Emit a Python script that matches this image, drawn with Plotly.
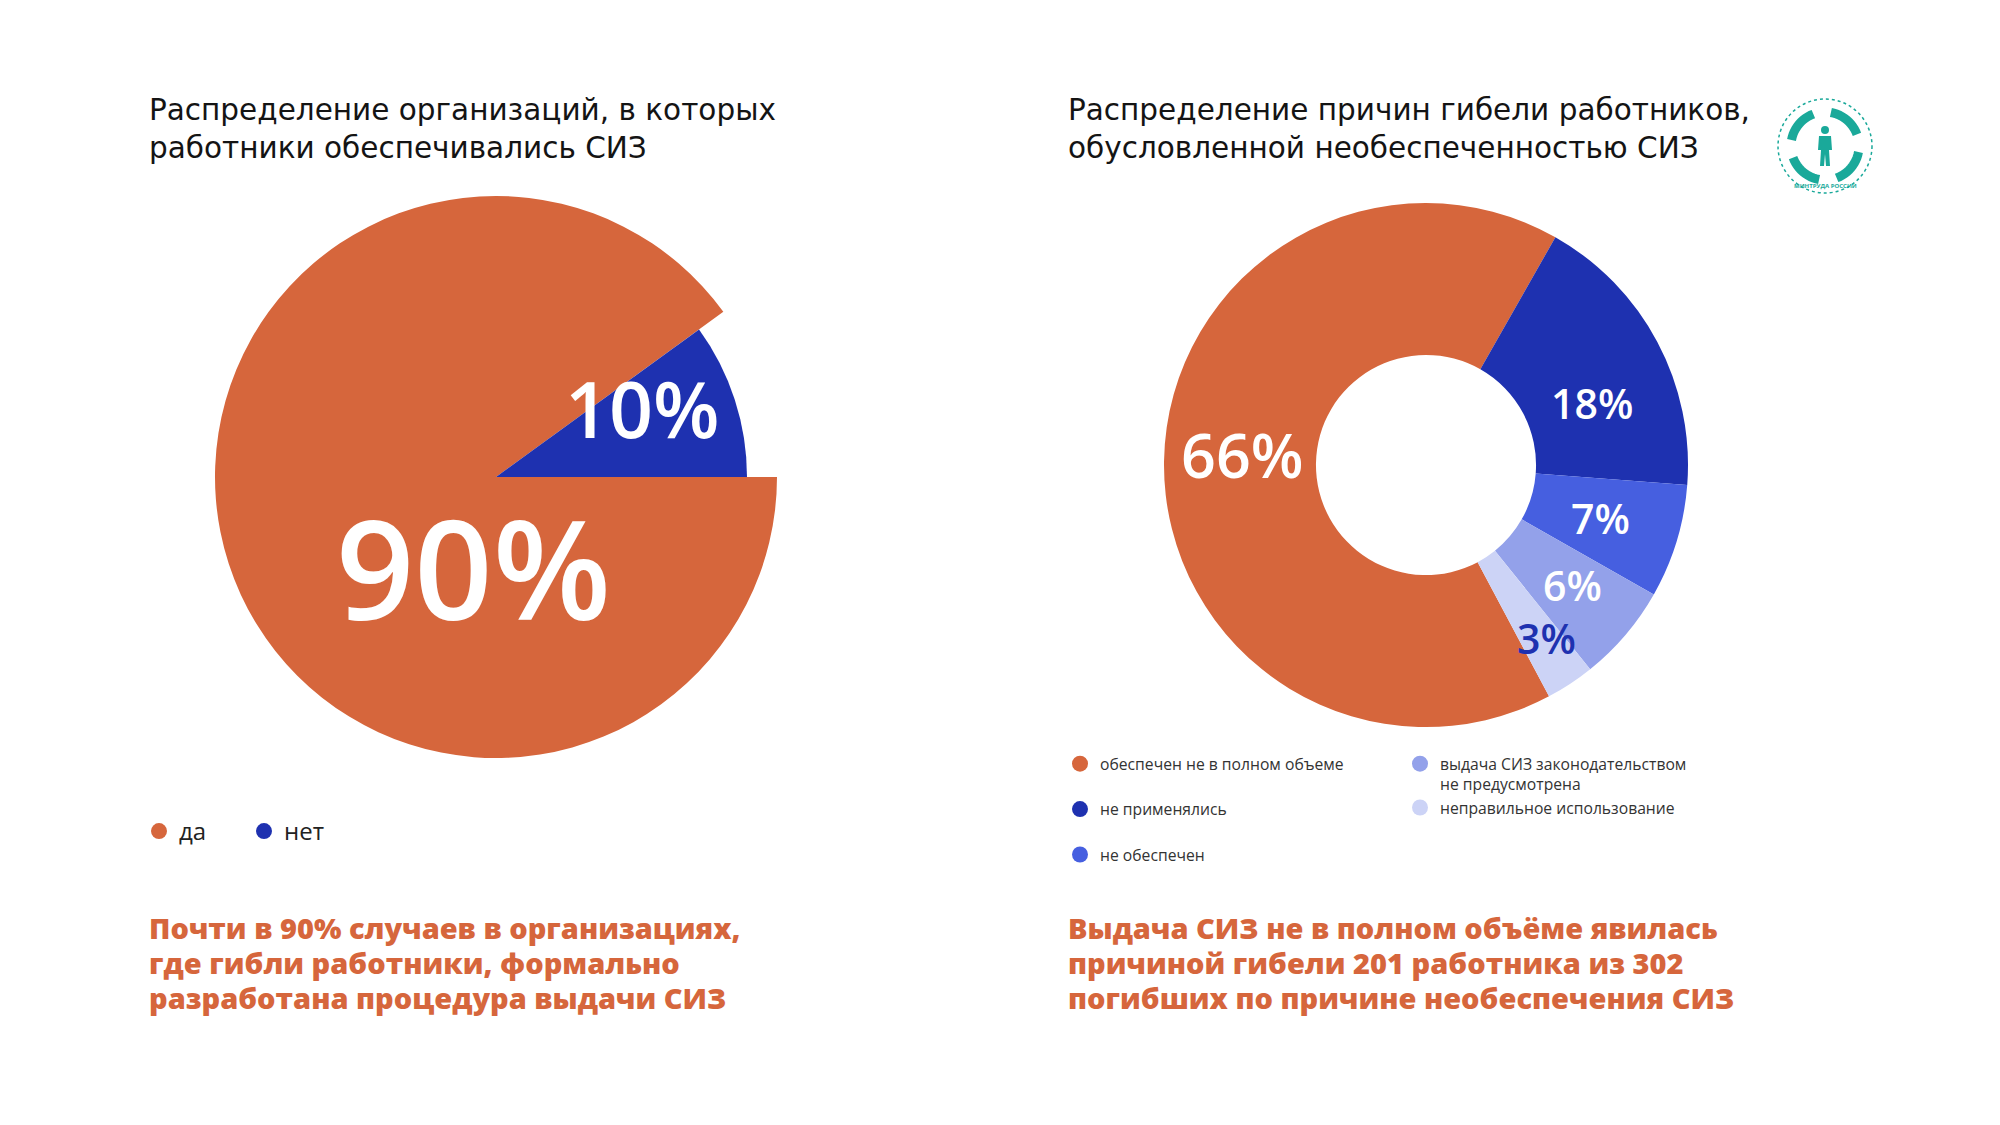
import math
import plotly.graph_objects as go

W, H = 2000, 1125

# Данные: организации, где работники обеспечивались СИЗ
org_labels = ["да", "нет"]
org_values = [90, 10]
org_colors = ["#D6663C", "#1E31B0"]

# Данные: причины гибели работников, обусловленные необеспеченностью СИЗ
pr_labels = ["обеспечен не в полном объеме", "не применялись", "не обеспечен",
             "выдача СИЗ законодательством<br>не предусмотрена", "неправильное использование"]
pr_values = [66, 18, 7, 6, 3]
pr_colors = ["#D6663C", "#1E31B0", "#465FE0", "#93A1EA", "#CCD3F6"]

title_left = ["Распределение организаций, в которых", "работники обеспечивались СИЗ"]
title_right = ["Распределение причин гибели работников,", "обусловленной необеспеченностью СИЗ"]
note_left = ["Почти в 90% случаев в организациях,", "где гибли работники, формально",
             "разработана процедура выдачи СИЗ"]
note_right = ["Выдача СИЗ не в полном объёме явилась", "причиной гибели 201 работника из 302",
              "погибших по причине необеспечения СИЗ"]

FONT = "Open Sans"
TITLE_FONT = "DejaVu Sans"
ORANGE = "#D6663C"
TEAL = "#1AA99A"
NONE = "rgba(0,0,0,0)"


def px(x):
    return x / W


def py(y):
    return 1 - y / H


def domain(cx, cy, r):
    return dict(x=[px(cx - r), px(cx + r)], y=[py(cy + r), py(cy - r)])


fig = go.Figure()

# левый круг: оранжевый сектор крупнее синего, поэтому два слоя
fig.add_trace(go.Pie(labels=org_labels, values=org_values, sort=False,
                     marker=dict(colors=[org_colors[0], NONE]),
                     rotation=90, direction="clockwise", textinfo="none",
                     domain=domain(496, 477, 281), showlegend=False))
fig.add_trace(go.Pie(labels=org_labels, values=org_values, sort=False,
                     marker=dict(colors=[NONE, org_colors[1]]),
                     rotation=90, direction="clockwise", textinfo="none",
                     domain=domain(496, 477, 251), showlegend=False))

# правый круг (кольцо)
fig.add_trace(go.Pie(labels=pr_labels, values=pr_values, sort=False,
                     marker=dict(colors=pr_colors), hole=0.42,
                     rotation=152, direction="clockwise", textinfo="none",
                     domain=domain(1426, 465, 262), showlegend=False))

# легенды из точек
for lab, col in zip(org_labels, org_colors):
    fig.add_trace(go.Scatter(x=[None], y=[None], mode="markers", name=lab,
                             marker=dict(size=16, color=col), legend="legend2"))
for i, (lab, col) in enumerate(zip(pr_labels, pr_colors)):
    fig.add_trace(go.Scatter(x=[None], y=[None], mode="markers", name=lab,
                             legendgroup=f"g{i}",
                             marker=dict(size=16, color=col),
                             legend="legend" if i < 3 else "legend3"))

ann = []


def add_text(x, y, text, size, color, family, weight=400):
    ann.append(dict(x=px(x), y=py(y), xref="paper", yref="paper", text=text,
                    showarrow=False, xanchor="left", yanchor="middle", align="left",
                    font=dict(family=family, size=size, color=color, weight=weight)))


def add_label(x, y, text, size, color="white"):
    ann.append(dict(x=px(x), y=py(y), xref="paper", yref="paper", text=text,
                    showarrow=False, xanchor="center", yanchor="middle",
                    font=dict(family=FONT, size=size, color=color, weight=600)))


add_text(147, 129, "<br>".join(title_left), 29.5, "#141414", TITLE_FONT)
add_text(1066, 129, "<br>".join(title_right), 29.5, "#141414", TITLE_FONT)
for k, line in enumerate(note_left):
    add_text(147, 927 + 35 * k, line, 29, ORANGE, FONT, 800)
for k, line in enumerate(note_right):
    add_text(1066, 927 + 35 * k, line, 29, ORANGE, FONT, 800)

# подписи долей
add_label(473, 567, f"{org_values[0]}%", 137)
add_label(642, 408, f"{org_values[1]}%", 77)
add_label(1242, 455, f"{pr_values[0]}%", 61)
add_label(1592, 403, f"{pr_values[1]}%", 41)
add_label(1600, 518, f"{pr_values[2]}%", 41)
add_label(1572, 585, f"{pr_values[3]}%", 41)
add_label(1546, 638, f"{pr_values[4]}%", 41, pr_colors[1])

# логотип (упрощённо)
shapes = []
lx, ly = 1825, 146
shapes.append(dict(type="circle", xref="paper", yref="paper",
                   x0=px(lx - 47), x1=px(lx + 47), y0=py(ly + 47), y1=py(ly - 47),
                   line=dict(color=TEAL, width=1.5, dash="dot")))
for a0 in (20, 110, 200, 290):
    pts = []
    for t in range(0, 61, 5):
        ang = math.radians(a0 + t)
        pts.append((lx + 34 * math.cos(ang), ly - 34 * math.sin(ang)))
    path = "M " + " L ".join(f"{px(x):.5f},{py(y):.5f}" for x, y in pts)
    shapes.append(dict(type="path", xref="paper", yref="paper", path=path,
                       line=dict(color=TEAL, width=9)))
shapes.append(dict(type="circle", xref="paper", yref="paper",
                   x0=px(lx - 4), x1=px(lx + 4), y0=py(ly - 12), y1=py(ly - 20),
                   fillcolor=TEAL, line=dict(width=0)))
body = [(lx - 6, ly - 10), (lx + 6, ly - 10), (lx + 7, ly + 4), (lx + 4, ly + 4),
        (lx + 5, ly + 20), (lx + 1, ly + 20), (lx, ly + 8), (lx - 1, ly + 20),
        (lx - 5, ly + 20), (lx - 4, ly + 4), (lx - 7, ly + 4)]
shapes.append(dict(type="path", xref="paper", yref="paper",
                   path="M " + " L ".join(f"{px(x):.5f},{py(y):.5f}" for x, y in body) + " Z",
                   fillcolor=TEAL, line=dict(width=0)))
ann.append(dict(x=px(lx), y=py(ly + 40), xref="paper", yref="paper",
                text="МИНТРУДА РОССИИ", showarrow=False, xanchor="center", yanchor="middle",
                font=dict(family=FONT, size=6, color=TEAL, weight=700)))

legend_common = dict(bgcolor=NONE, borderwidth=0, xanchor="left", yanchor="top",
                     itemclick=False, itemdoubleclick=False)

fig.update_layout(
    width=W, height=H,
    margin=dict(l=0, r=0, t=0, b=0),
    paper_bgcolor="white", plot_bgcolor="white",
    font=dict(family=FONT, color="#333333"),
    xaxis=dict(visible=False), yaxis=dict(visible=False),
    annotations=ann, shapes=shapes,
    legend=dict(**legend_common, x=px(1060), y=py(747), orientation="v",
                tracegroupgap=22, valign="top",
                font=dict(family=FONT, size=15.7, color="#333333")),
    legend3=dict(**legend_common, x=px(1400), y=py(747), orientation="v",
                 tracegroupgap=0, valign="top",
                 font=dict(family=FONT, size=15.7, color="#333333")),
    legend2=dict(**legend_common, x=px(139), y=py(809), orientation="h",
                 entrywidth=60,
                 font=dict(family=FONT, size=24, color="#222222")),
)

# убрать отступ страницы, чтобы рисунок занял окно целиком
fig.write_html("out.html", config={"displayModeBar": False},
               post_script="document.body.style.margin='0';")
